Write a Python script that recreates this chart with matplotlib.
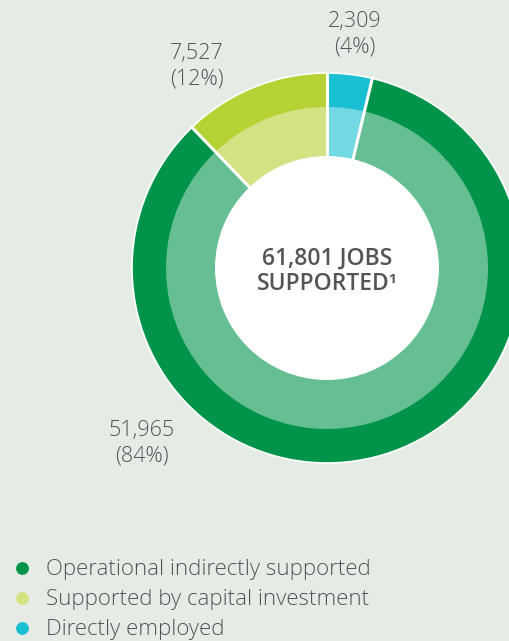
import matplotlib.pyplot as plt
import numpy as np

# jobs supported, clockwise from 12 o'clock
categories = ["Directly employed", "Operational indirectly supported", "Supported by capital investment"]
jobs = [2309, 51965, 7527]
dark_colors = ["#1bbfd3", "#00944a", "#b5d334"]
light_colors = ["#72d8e2", "#66bf93", "#d3e384"]
legend_order = [1, 2, 0]
legend_colors = ["#00944a", "#d3e384", "#1bbfd3"]

total = sum(jobs)
bg = "#e5ece5"
text_col = "#545454"
font = "Open Sans"

fig = plt.figure(figsize=(5.10, 6.41), dpi=100, facecolor=bg)
ax = fig.add_axes([0, 0, 1, 1])
ax.set_facecolor(bg)

H = 641
cx, cy = 327, H - 268
r_out, r_mid, r_in = 195, 161, 112

ax.pie(jobs, radius=r_out, center=(cx, cy), colors=dark_colors, startangle=90,
       counterclock=False, wedgeprops=dict(linewidth=0))
ax.pie(jobs, radius=r_mid, center=(cx, cy), colors=light_colors, startangle=90,
       counterclock=False, wedgeprops=dict(linewidth=0))

# white separators between the slices
frac = np.cumsum([0] + jobs) / total
for f in frac[:-1]:
    ang = np.deg2rad(90 - 360 * f)
    ax.plot([cx, cx + (r_out + 2) * np.cos(ang)], [cy, cy + (r_out + 2) * np.sin(ang)],
            color="white", lw=2.2, solid_capstyle="butt")
ax.add_patch(plt.Circle((cx, cy), r_out, fill=False, ec="white", lw=1.2))
ax.add_patch(plt.Circle((cx, cy), r_in, color="white", lw=0))

ax.set_xlim(0, 510)
ax.set_ylim(0, H)
ax.set_aspect("equal")
ax.axis("off")

# value labels
label_pos = [(355, 34), (142, 443), (197, 66)]
for v, (x, y) in zip(jobs, label_pos):
    ax.text(x, H - y, f"{v:,}\n({v / total:.0%})", ha="center", va="center",
            fontsize=15.5, color=text_col, family=font, weight="light",
            linespacing=1.3)

ax.text(cx, H - 259, f"{total:,} JOBS", ha="center", va="center", fontsize=16.5,
        color=text_col, family=font, weight="semibold")
ax.text(cx, H - 284, "SUPPORTED¹", ha="center", va="center", fontsize=16.5,
        color=text_col, family=font, weight="semibold")

# legend
for i, k in enumerate(legend_order):
    y = H - (568 + 30 * i)
    ax.scatter([22], [y], s=85, color=legend_colors[i], lw=0)
    ax.text(46, y - 1.5, categories[k], ha="left", va="center", fontsize=16,
            color=text_col, family=font, weight="light")

fig.savefig("out.png", dpi=100, facecolor=bg)
